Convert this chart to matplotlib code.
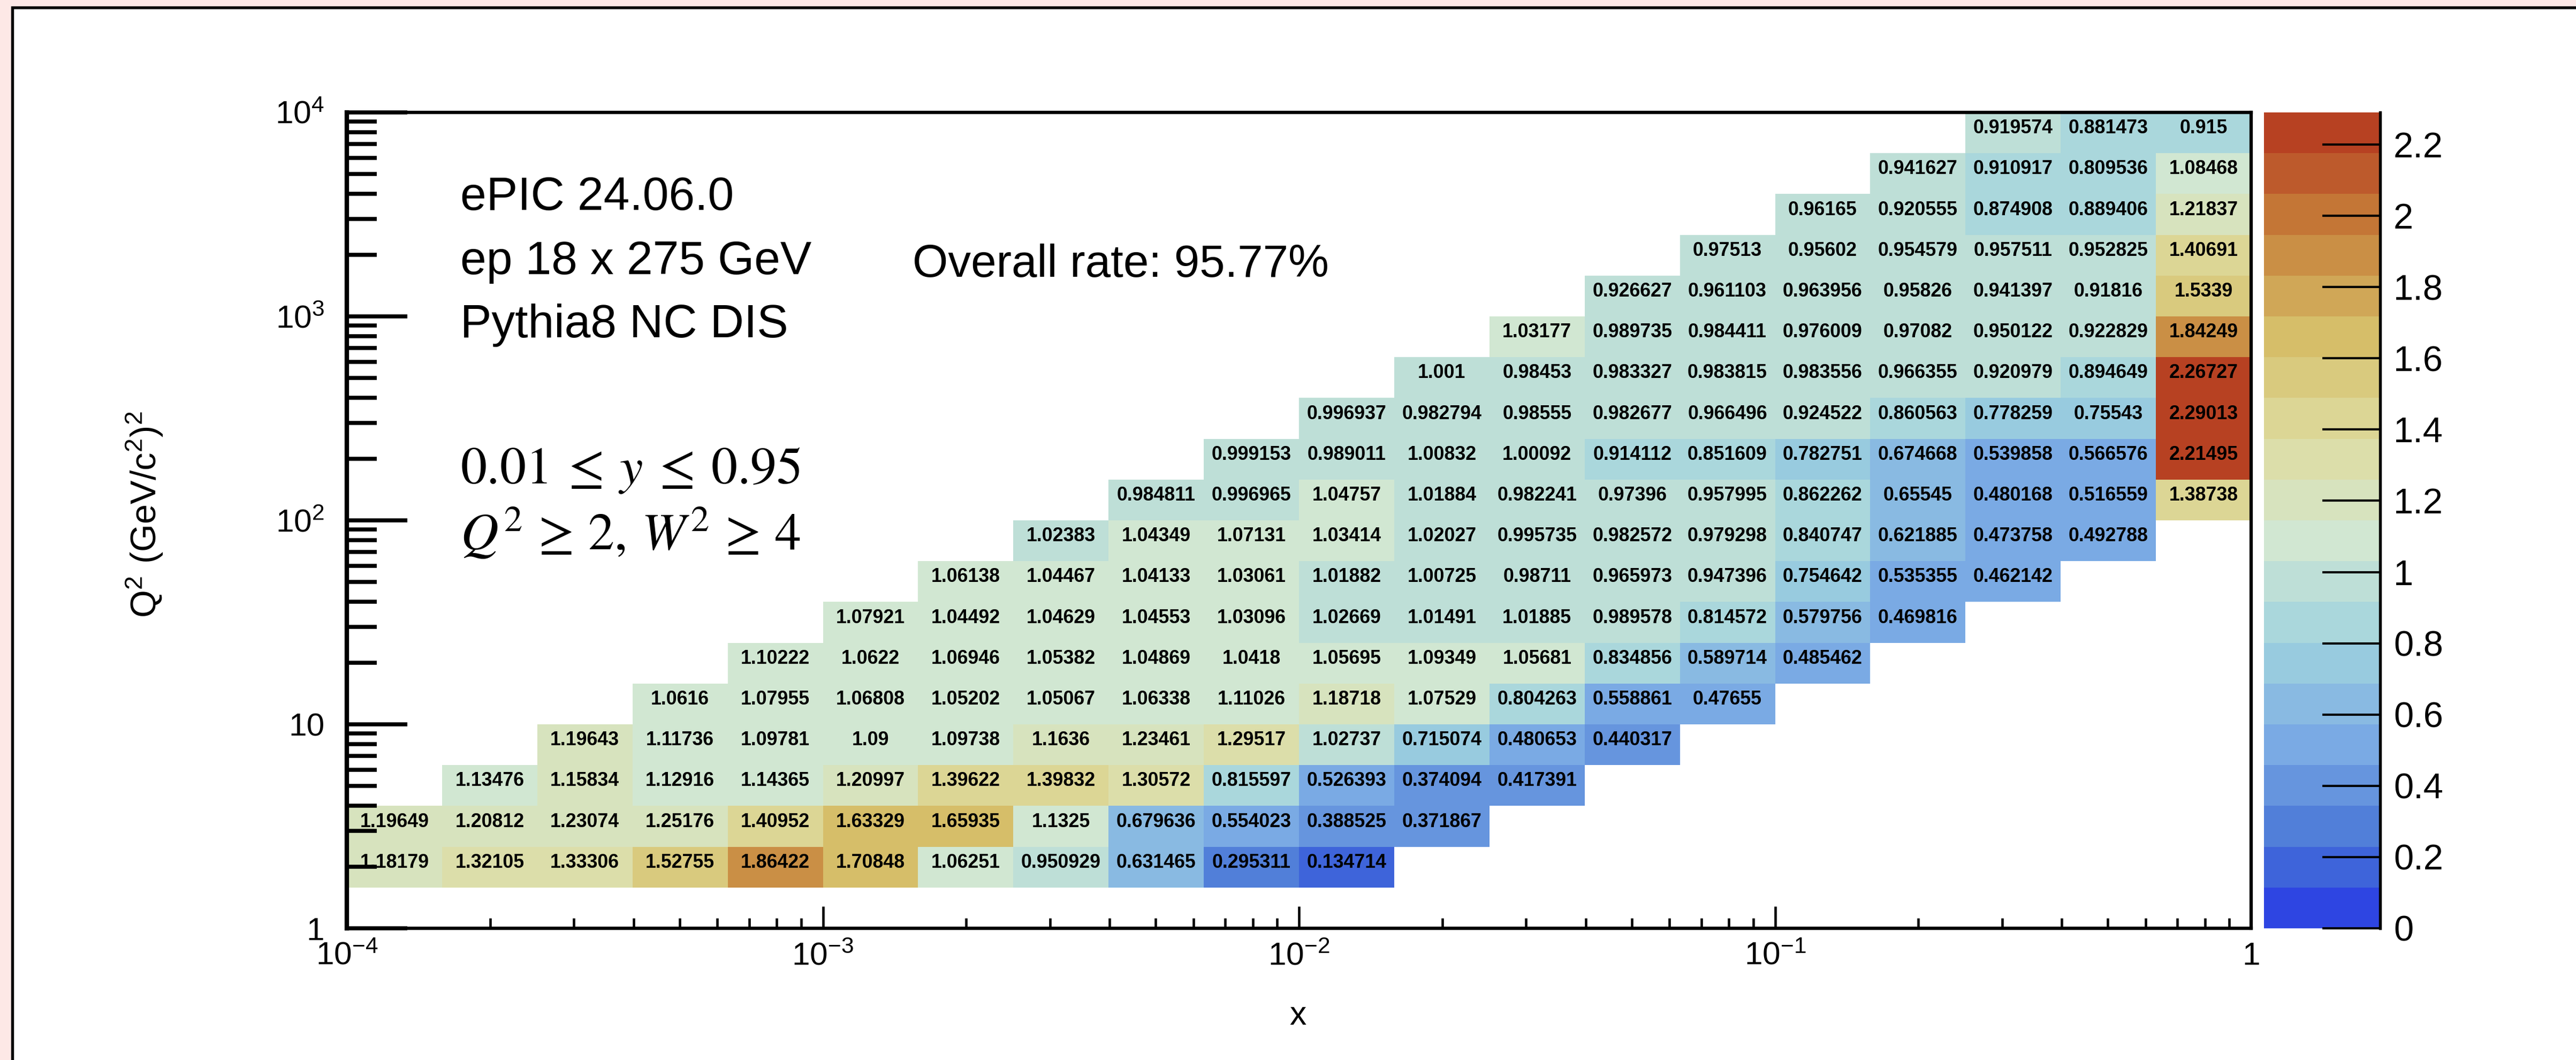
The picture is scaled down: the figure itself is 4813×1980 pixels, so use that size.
import numpy as np
import matplotlib
matplotlib.use("Agg")
import matplotlib.pyplot as plt
from matplotlib.colors import LinearSegmentedColormap, ListedColormap, BoundaryNorm
from matplotlib.patches import Rectangle
from matplotlib.ticker import NullFormatter, FormatStrFormatter

plt.rcParams['font.family'] = ['Liberation Sans', 'DejaVu Sans']

# reconstruction/generated ratio per (x, Q2) bin, one list per Q2 bin (bottom to top)
row01 = [1.18179, 1.32105, 1.33306, 1.52755, 1.86422, 1.70848, 1.06251, 0.950929, 0.631465, 0.295311, 0.134714]
row02 = [1.19649, 1.20812, 1.23074, 1.25176, 1.40952, 1.63329, 1.65935, 1.1325, 0.679636, 0.554023, 0.388525, 0.371867]
row03 = [1.13476, 1.15834, 1.12916, 1.14365, 1.20997, 1.39622, 1.39832, 1.30572, 0.815597, 0.526393, 0.374094, 0.417391]
row04 = [1.19643, 1.11736, 1.09781, 1.09, 1.09738, 1.1636, 1.23461, 1.29517, 1.02737, 0.715074, 0.480653, 0.440317]
row05 = [1.0616, 1.07955, 1.06808, 1.05202, 1.05067, 1.06338, 1.11026, 1.18718, 1.07529, 0.804263, 0.558861, 0.47655]
row06 = [1.10222, 1.0622, 1.06946, 1.05382, 1.04869, 1.0418, 1.05695, 1.09349, 1.05681, 0.834856, 0.589714, 0.485462]
row07 = [1.07921, 1.04492, 1.04629, 1.04553, 1.03096, 1.02669, 1.01491, 1.01885, 0.989578, 0.814572, 0.579756, 0.469816]
row08 = [1.06138, 1.04467, 1.04133, 1.03061, 1.01882, 1.00725, 0.98711, 0.965973, 0.947396, 0.754642, 0.535355, 0.462142]
row09 = [1.02383, 1.04349, 1.07131, 1.03414, 1.02027, 0.995735, 0.982572, 0.979298, 0.840747, 0.621885, 0.473758, 0.492788]
row10 = [0.984811, 0.996965, 1.04757, 1.01884, 0.982241, 0.97396, 0.957995, 0.862262, 0.65545, 0.480168, 0.516559, 1.38738]
row11 = [0.999153, 0.989011, 1.00832, 1.00092, 0.914112, 0.851609, 0.782751, 0.674668, 0.539858, 0.566576, 2.21495]
row12 = [0.996937, 0.982794, 0.98555, 0.982677, 0.966496, 0.924522, 0.860563, 0.778259, 0.75543, 2.29013]
row13 = [1.001, 0.98453, 0.983327, 0.983815, 0.983556, 0.966355, 0.920979, 0.894649, 2.26727]
row14 = [1.03177, 0.989735, 0.984411, 0.976009, 0.97082, 0.950122, 0.922829, 1.84249]
row15 = [0.926627, 0.961103, 0.963956, 0.95826, 0.941397, 0.91816, 1.5339]
row16 = [0.97513, 0.95602, 0.954579, 0.957511, 0.952825, 1.40691]
row17 = [0.96165, 0.920555, 0.874908, 0.889406, 1.21837]
row18 = [0.941627, 0.910917, 0.809536, 1.08468]
row19 = [0.919574, 0.881473, 0.915]
rows = [row01, row02, row03, row04, row05, row06, row07, row08, row09, row10,
        row11, row12, row13, row14, row15, row16, row17, row18, row19]
first_xbin = [0, 0, 1, 2, 3, 4, 5, 6, 7, 8, 9, 10, 11, 12, 13, 14, 15, 16, 17]

x_edges = np.logspace(-4, 0, 21)
q2_edges = np.logspace(0, 4, 21)

x_ticks = [1e-4, 1e-3, 1e-2, 1e-1, 1]
x_tick_labels = [r'$\mathregular{10^{-4}}$', r'$\mathregular{10^{-3}}$',
                 r'$\mathregular{10^{-2}}$', r'$\mathregular{10^{-1}}$', '1']
y_ticks = [1, 10, 100, 1e3, 1e4]
y_tick_labels = ['1', '10', r'$\mathregular{10^{2}}$', r'$\mathregular{10^{3}}$',
                 r'$\mathregular{10^{4}}$']
cbar_ticks = [0, 0.2, 0.4, 0.6, 0.8, 1, 1.2, 1.4, 1.6, 1.8, 2, 2.2]

# fill the 2D histogram
Z = np.full((20, 20), np.nan)
for k, vals in enumerate(rows):
    j0 = first_xbin[k]
    Z[k + 1, j0:j0 + len(vals)] = vals
Zm = np.ma.masked_invalid(Z)

# ROOT kLightTemperature palette, 20 contour levels
stops_r = [31, 71, 123, 160, 210, 222, 214, 199, 183]
stops_g = [40, 117, 171, 211, 231, 220, 190, 132, 65]
stops_b = [234, 214, 228, 222, 210, 160, 105, 60, 34]
base = LinearSegmentedColormap.from_list(
    'lighttemp', [(r / 255, g / 255, b / 255) for r, g, b in zip(stops_r, stops_g, stops_b)])
nlev = 20
band_cols = base((np.arange(nlev) + 0.99) / nlev)
cmap = ListedColormap(band_cols)
zmax = np.nanmax(Z)
levels = np.linspace(0, zmax, nlev + 1)
norm = BoundaryNorm(levels, nlev, clip=True)

W, H = 4813, 1980
fig = plt.figure(figsize=(W / 300, H / 300), dpi=300)
fig.patch.set_facecolor('#fde8e6')
fig.add_artist(Rectangle((22.5 / W, -0.05), 1.1, 1 - 13.5 / H + 0.05, transform=fig.transFigure,
                         facecolor='white', edgecolor='black', linewidth=1.3, zorder=-5))

ax = fig.add_axes([648 / W, 1 - 1734 / H, (4206 - 648) / W, (1734 - 210) / H])
cax = fig.add_axes([4230 / W, 1 - 1734 / H, (4447 - 4230) / W, (1734 - 210) / H])

mesh = ax.pcolormesh(x_edges, q2_edges, Zm, cmap=cmap, norm=norm, edgecolors='face', linewidth=0)
ax.set_xscale('log')
ax.set_yscale('log')
ax.set_xlim(1e-4, 1)
ax.set_ylim(1, 1e4)

# cell contents
for i in range(20):
    for j in range(20):
        v = Z[i, j]
        if np.isnan(v):
            continue
        xc = np.sqrt(x_edges[j] * x_edges[j + 1])
        yc = np.sqrt(q2_edges[i] * q2_edges[i + 1])
        ax.annotate('{:g}'.format(v), xy=(xc, yc), xytext=(0, 2), textcoords='offset points',
                    ha='center', va='center', fontsize=8.6, fontweight='bold')

ax.set_xticks(x_ticks)
ax.set_xticklabels(x_tick_labels)
ax.set_yticks(y_ticks)
ax.set_yticklabels(y_tick_labels)
ax.xaxis.set_minor_formatter(NullFormatter())
ax.yaxis.set_minor_formatter(NullFormatter())
ax.tick_params(which='both', direction='in', top=False, right=False, labelsize=14.5)
ax.tick_params(axis='x', which='major', length=9.8, width=1.1, pad=6)
ax.tick_params(axis='x', which='minor', length=4.6, width=1.1)
ax.tick_params(axis='y', which='major', length=27, width=1.8, pad=10)
ax.tick_params(axis='y', which='minor', length=13.5, width=1.8)
for s in ax.spines.values():
    s.set_linewidth(1.5)
ax.spines['left'].set_linewidth(2)

fig.text(2425 / W, 1 - 1897 / H, 'x', fontsize=15, ha='center', va='center')
fig.text(270 / W, 1 - 961 / H, r'$\mathregular{Q^{2}\ (GeV/c^{2})^{2}}$', fontsize=16,
         rotation=90, ha='center', va='center')

# colour bar
cb = fig.colorbar(mesh, cax=cax)
cb.outline.set_visible(False)
cb.set_ticks(cbar_ticks)
cb.ax.yaxis.set_major_formatter(FormatStrFormatter('%g'))
cb.minorticks_off()
cax.tick_params(direction='in', length=26, width=1.0, labelsize=16, pad=6, right=True, left=False)
cax.plot([1, 1], [0, 1], transform=cax.transAxes, color='black', lw=1.3, clip_on=False)

# labels
fig.text(860 / W, 1 - 392 / H, 'ePIC 24.06.0', fontsize=21, va='baseline')
fig.text(860 / W, 1 - 512 / H, 'ep 18 x 275 GeV', fontsize=21, va='baseline')
fig.text(860 / W, 1 - 630 / H, 'Pythia8 NC DIS', fontsize=21, va='baseline')
fig.text(1705 / W, 1 - 517 / H, 'Overall rate: 95.77%', fontsize=20.5, va='baseline')
fig.text(860 / W, 1 - 903 / H, r'$0.01\:\leq\:y\:\leq\:0.95$', fontsize=23.5, va='baseline',
         math_fontfamily='stix')
fig.text(860 / W, 1 - 1027 / H, r'$Q^{2}\,\geq\,2,\,W^{2}\,\geq\,4$', fontsize=23.5, va='baseline',
         math_fontfamily='stix')

fig.savefig('out.png', dpi=300, facecolor=fig.get_facecolor())
